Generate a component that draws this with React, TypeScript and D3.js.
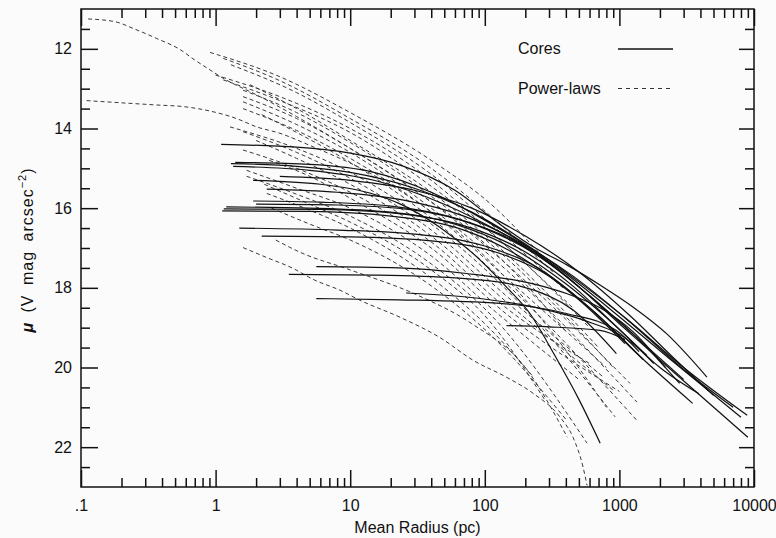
import React, { useRef, useEffect } from "react";
import * as d3 from "d3";

// axis ticks
const xMajor = [0.1, 1, 10, 100, 1000, 10000];
const xMajorLabels = [".1", "1", "10", "100", "1000", "10000"];
const yMajor = [12, 14, 16, 18, 20, 22];

// Cores (solid lines): [mean radius pc, mu]
const core01 = [[1.1, 14.4], [4, 14.47], [10, 14.62], [25, 14.95], [60, 15.55], [129, 16.4], [229, 16.97], [410, 17.43], [718, 17.93], [1260, 18.48], [2240, 19.15], [4470, 20.24]];
const core02 = [[1.3, 14.88], [4, 14.95], [10, 15.1], [30, 15.5], [80, 16.1], [200, 16.9], [500, 17.85], [1200, 18.85], [3000, 20.0], [8900, 21.2]];
const core03 = [[1.35, 14.95], [5, 15.05], [15, 15.3], [50, 15.9], [130, 16.6], [350, 17.5], [900, 18.6], [2500, 19.85], [8000, 21.25]];
const core04 = [[2.4, 15.52], [8, 15.6], [25, 15.8], [70, 16.2], [180, 16.85], [450, 17.7], [1100, 18.75], [3000, 20.05], [7000, 21.0]];
const core05 = [[1.9, 15.82], [6, 15.85], [20, 15.95], [60, 16.25], [160, 16.8], [400, 17.7], [1000, 18.9], [2500, 20.1], [9000, 21.75]];
const core06 = [[1.2, 15.97], [5, 16.0], [20, 16.1], [60, 16.4], [150, 16.95], [400, 17.9], [900, 18.9], [2000, 20.0], [3900, 20.66]];
const core07 = [[1.12, 16.07], [5, 16.08], [20, 16.2], [70, 16.55], [200, 17.3], [500, 18.3], [1100, 19.4]];
const core08 = [[1.5, 16.5], [8, 16.55], [30, 16.65], [100, 16.95], [250, 17.5], [600, 18.5], [1400, 19.7], [3500, 20.9]];
const core09 = [[2.2, 16.7], [10, 16.72], [40, 16.82], [120, 17.1], [300, 17.7], [700, 18.7], [1500, 19.8]];
const core10 = [[5.6, 17.47], [23, 17.5], [73, 17.64], [229, 17.9], [410, 18.15], [718, 18.5], [1260, 19.1], [2200, 20.0]];
const core11 = [[3.5, 17.66], [15, 17.68], [60, 17.75], [180, 17.95], [450, 18.55], [950, 19.65]];
const core12 = [[5.6, 18.27], [23, 18.3], [130, 18.39], [410, 18.65], [950, 19.07], [1400, 19.6]];
const core13 = [[26, 18.13], [73, 18.23], [229, 18.48], [540, 18.81], [1260, 19.4], [1800, 19.9]];
const core14 = [[145, 18.95], [300, 18.98], [718, 19.07], [1100, 19.3]];
const core15 = [[1.9, 15.3], [6, 15.4], [15, 15.65], [23, 15.88], [46, 16.47], [82, 17.14], [145, 17.98], [217, 18.65], [325, 19.65], [500, 20.8], [720, 21.9]];
const core16 = [[1.15, 16.02], [6, 16.03], [25, 16.15], [80, 16.5], [200, 17.1], [450, 17.95], [900, 18.9], [1600, 19.7]];
const core17 = [[2.0, 15.9], [8, 15.92], [30, 16.05], [90, 16.45], [250, 17.2], [600, 18.2], [1400, 19.3], [3000, 20.3]];
const core18 = [[3.0, 15.2], [10, 15.3], [30, 15.55], [80, 16.0], [200, 16.7], [500, 17.6], [1200, 18.7], [2600, 19.8], [5000, 20.7]];
const core19 = [[1.4, 14.85], [5, 14.9], [15, 15.1], [40, 15.6], [100, 16.3], [250, 17.15], [600, 18.2], [1400, 19.3], [2800, 20.4]];

const cores = [core01, core02, core03, core04, core05, core06, core07, core08, core09, core10,
  core11, core12, core13, core14, core15, core16, core17, core18, core19];

// Power-laws (dashed lines): [mean radius pc, mu]
const pl01 = [[0.113, 11.25], [0.18, 11.32], [0.245, 11.49], [0.365, 11.74], [0.54, 12.01], [0.7, 12.28], [0.91, 12.53], [1.14, 12.74], [2, 13.15], [4, 13.7], [10, 14.5], [30, 15.55], [80, 16.6], [200, 17.9], [400, 19.1]];
const pl02 = [[0.11, 13.3], [0.365, 13.41], [0.575, 13.45], [0.96, 13.58], [1.43, 13.75], [2.02, 13.96], [3, 14.12], [5.3, 14.46], [12, 15.0], [30, 15.8], [80, 16.9], [200, 18.3], [450, 19.8], [800, 21.0]];
const pl03 = [[1.6, 16.99], [2.4, 17.24], [3.7, 17.5], [5.4, 17.8], [8.4, 18.06], [11.8, 18.31], [23.5, 18.74], [46, 19.24], [82, 19.82], [146, 20.25], [229, 20.65], [363, 21.25], [452, 21.75], [537, 22.5], [575, 22.96]];
const pl04 = [[0.91, 12.09], [3, 12.7], [10, 13.6], [40, 14.8], [120, 16.0], [250, 17.1]];
const pl05 = [[1.14, 12.24], [3, 12.8], [10, 13.75], [40, 15.0], [120, 16.3], [320, 17.6]];
const pl06 = [[1.3, 12.4], [4, 13.1], [10, 13.85], [40, 15.15], [120, 16.5], [380, 18.0]];
const pl07 = [[1.0, 12.66], [3, 13.2], [10, 14.0], [40, 15.3], [120, 16.7], [450, 18.5]];
const pl08 = [[1.14, 12.78], [3, 13.3], [10, 14.1], [40, 15.45], [150, 17.0], [600, 19.0]];
const pl09 = [[1.8, 12.9], [4, 13.5], [10, 14.3], [40, 15.6], [150, 17.2], [700, 19.5]];
const pl10 = [[1.6, 13.04], [4, 13.6], [10, 14.35], [40, 15.7], [150, 17.3], [900, 20.0]];
const pl11 = [[1.6, 13.2], [4, 13.75], [10, 14.5], [40, 15.85], [150, 17.45], [1200, 20.4]];
const pl12 = [[1.6, 13.33], [4, 13.9], [10, 14.6], [40, 16.0], [150, 17.6], [1350, 20.87]];
const pl13 = [[1.6, 13.5], [4, 14.05], [10, 14.75], [40, 16.1], [150, 17.8], [800, 20.0]];
const pl14 = [[2.2, 13.65], [4, 14.1], [10, 14.85], [40, 16.25], [150, 17.95], [1350, 21.33]];
const pl15 = [[1.28, 13.96], [4, 14.5], [10, 15.1], [40, 16.4], [150, 18.1], [930, 21.24]];
const pl16 = [[1.6, 14.08], [4, 14.6], [10, 15.25], [40, 16.55], [150, 18.25], [760, 20.24]];
const pl17 = [[2.0, 14.3], [4, 14.75], [10, 15.4], [40, 16.7], [150, 18.4], [900, 20.57]];
const pl18 = [[1.6, 14.54], [4, 15.0], [10, 15.6], [40, 16.85], [150, 18.55], [600, 19.9]];
const pl19 = [[2.5, 14.8], [5, 15.2], [10, 15.75], [40, 17.0], [150, 18.7], [1000, 20.6]];
const pl20 = [[1.7, 15.05], [4, 15.5], [10, 16.0], [40, 17.2], [120, 18.6], [500, 20.3]];
const pl21 = [[1.7, 15.2], [4, 15.65], [10, 16.2], [40, 17.4], [120, 18.8], [575, 21.9]];
const pl22 = [[2.3, 15.4], [5, 15.9], [10, 16.35], [40, 17.55], [100, 18.7], [280, 20.82]];
const pl23 = [[2.4, 15.63], [5, 16.05], [10, 16.5], [40, 17.75], [100, 18.9], [230, 20.24]];
const pl24 = [[2.6, 16.0], [5, 16.4], [10, 16.8], [40, 17.95], [120, 19.3], [400, 21.3]];
const pl25 = [[2.8, 16.8], [4.2, 17.1], [10, 17.55], [30, 18.15], [80, 18.9], [200, 20.0], [410, 21.75]];

const powerLaws = [pl01, pl02, pl03, pl04, pl05, pl06, pl07, pl08, pl09, pl10, pl11, pl12, pl13,
  pl14, pl15, pl16, pl17, pl18, pl19, pl20, pl21, pl22, pl23, pl24, pl25];

export default function App() {
  const svgRef = useRef<SVGSVGElement>(null);
  const width = 776;
  const height = 538;
  const left = 81, right = 754, top = 9, bottom = 487;

  useEffect(() => {
    const svg = d3.select(svgRef.current);
    svg.selectAll("*").remove();

    const x = d3.scaleLog().domain([0.1, 10000]).range([left, right]);
    const y = d3.scaleLinear().domain([11, 23]).range([top, bottom]);

    const xMinor: number[] = [];
    [0.1, 1, 10, 100, 1000].forEach(d => d3.range(2, 10).forEach(k => xMinor.push(d * k)));
    const yMinor = d3.range(11.5, 23, 0.5).filter(v => !yMajor.includes(v));

    svg.append("rect").attr("width", width).attr("height", height).attr("fill", "#fbfbfb");

    svg.append("defs").append("clipPath").attr("id", "plotclip")
      .append("rect").attr("x", left).attr("y", top)
      .attr("width", right - left).attr("height", bottom - top);

    const line = d3.line<number[]>()
      .x(d => x(d[0]))
      .y(d => y(d[1]))
      .curve(d3.curveMonotoneX);

    const plot = svg.append("g").attr("clip-path", "url(#plotclip)");

    plot.selectAll("path.pl")
      .data(powerLaws)
      .enter()
      .append("path")
      .attr("class", "pl")
      .attr("d", d => line(d))
      .attr("fill", "none")
      .attr("stroke", "#3a3a3a")
      .attr("stroke-width", 1)
      .attr("stroke-dasharray", "4,3");

    plot.selectAll("path.core")
      .data(cores)
      .enter()
      .append("path")
      .attr("class", "core")
      .attr("d", d => line(d))
      .attr("fill", "none")
      .attr("stroke", "#111")
      .attr("stroke-width", 1.2);

    const font = "'Liberation Sans', Arial, Helvetica, sans-serif";
    const styleAxis = (g: any) => {
      g.select(".domain").remove();
      g.selectAll(".tick line").attr("stroke", "#111").attr("stroke-width", 1.5);
      g.selectAll("text").attr("font-family", font).attr("font-size", 16).attr("fill", "#111");
    };

    // bottom axis
    svg.append("g").attr("transform", `translate(0,${bottom})`)
      .call(d3.axisBottom(x).tickValues(xMajor).tickSize(-17).tickPadding(13)
        .tickFormat((d, i) => xMajorLabels[i]))
      .call(styleAxis);
    svg.append("g").attr("transform", `translate(0,${bottom})`)
      .call(d3.axisBottom(x).tickValues(xMinor).tickSize(-9).tickFormat(() => ""))
      .call(styleAxis);
    // top axis
    svg.append("g").attr("transform", `translate(0,${top})`)
      .call(d3.axisTop(x).tickValues(xMajor).tickSize(-17).tickFormat(() => ""))
      .call(styleAxis);
    svg.append("g").attr("transform", `translate(0,${top})`)
      .call(d3.axisTop(x).tickValues(xMinor).tickSize(-9).tickFormat(() => ""))
      .call(styleAxis);
    // left axis
    svg.append("g").attr("transform", `translate(${left},0)`)
      .call(d3.axisLeft(y).tickValues(yMajor).tickSize(-17).tickPadding(9).tickFormat(d3.format("d")))
      .call(styleAxis);
    svg.append("g").attr("transform", `translate(${left},0)`)
      .call(d3.axisLeft(y).tickValues(yMinor).tickSize(-9).tickFormat(() => ""))
      .call(styleAxis);
    // right axis
    svg.append("g").attr("transform", `translate(${right},0)`)
      .call(d3.axisRight(y).tickValues(yMajor).tickSize(-15).tickFormat(() => ""))
      .call(styleAxis);
    svg.append("g").attr("transform", `translate(${right},0)`)
      .call(d3.axisRight(y).tickValues(yMinor).tickSize(-9).tickFormat(() => ""))
      .call(styleAxis);

    // frame
    svg.append("rect")
      .attr("x", left).attr("y", top)
      .attr("width", right - left).attr("height", bottom - top)
      .attr("fill", "none").attr("stroke", "#111").attr("stroke-width", 1.5);

    // x title
    svg.append("text")
      .attr("x", (left + right) / 2).attr("y", 533)
      .attr("text-anchor", "middle")
      .attr("font-family", font).attr("font-size", 16).attr("fill", "#111")
      .text("Mean Radius (pc)");

    // y title
    const yt = svg.append("text")
      .attr("transform", "translate(33,250) rotate(-90)")
      .attr("text-anchor", "middle")
      .attr("font-family", font).attr("font-size", 16).attr("fill", "#111")
      .attr("word-spacing", 4)
      .attr("letter-spacing", 1);
    yt.append("tspan").attr("font-style", "italic").attr("font-weight", "bold").text("μ");
    yt.append("tspan").text(" (V mag arcsec");
    yt.append("tspan").attr("dy", -7).attr("font-size", 11).text("−2");
    yt.append("tspan").attr("dy", 7).text(")");

    // legend
    const legend = svg.append("g");
    legend.append("text").attr("x", 518).attr("y", 54)
      .attr("font-family", font).attr("font-size", 16).attr("fill", "#111").text("Cores");
    legend.append("line").attr("x1", 618).attr("x2", 673).attr("y1", 49).attr("y2", 49)
      .attr("stroke", "#111").attr("stroke-width", 1.3);
    legend.append("text").attr("x", 518).attr("y", 94)
      .attr("font-family", font).attr("font-size", 16).attr("fill", "#111").text("Power-laws");
    legend.append("line").attr("x1", 618).attr("x2", 673).attr("y1", 88.5).attr("y2", 88.5)
      .attr("stroke", "#333").attr("stroke-width", 1).attr("stroke-dasharray", "4,4");
  }, []);

  return (
    <svg ref={svgRef} width={width} height={height}
      style={{ position: "absolute", left: 0, top: 0, display: "block" }} />
  );
}
